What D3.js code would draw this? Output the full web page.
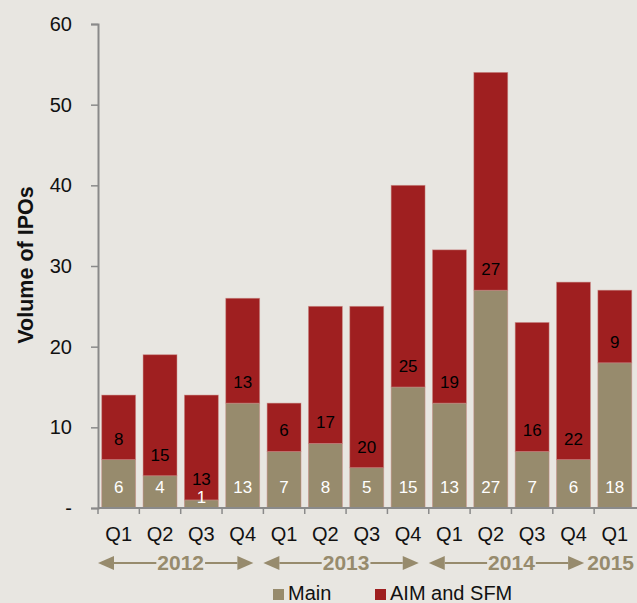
<!DOCTYPE html>
<html>
<head>
<meta charset="utf-8">
<script src="https://cdn.jsdelivr.net/npm/d3@7"></script>
<style>
  body { margin: 0; background: #e8e6e1; }
  svg { display: block; font-family: "Liberation Sans", Arial, sans-serif; }
</style>
</head>
<body>
<div id="chart"></div>
<script>
// data
var quarters = ["Q1", "Q2", "Q3", "Q4", "Q1", "Q2", "Q3", "Q4", "Q1", "Q2", "Q3", "Q4", "Q1"];
var years    = ["2012", "2012", "2012", "2012", "2013", "2013", "2013", "2013", "2014", "2014", "2014", "2014", "2015"];
var mainIpos = [6, 4, 1, 13, 7, 8, 5, 15, 13, 27, 7, 6, 18];
var aimIpos  = [8, 15, 13, 13, 6, 17, 20, 25, 19, 27, 16, 22, 9];
var yTicks   = [0, 10, 20, 30, 40, 50, 60];
var seriesNames = ["Main", "AIM and SFM"];

var W = 637, H = 603;
var margin = {top: 24, right: 1.5, bottom: 95, left: 98};
var tan = "#978b6d", red = "#9f1f20", axisGrey = "#8a8a8a";
var fontFam = "'Liberation Sans', Arial, sans-serif";

var rows = quarters.map(function(q, i) {
    return {key: i, q: q, year: years[i], main: mainIpos[i], aim: aimIpos[i]};
});

var svg = d3.select("#chart").append("svg")
    .attr("width", W).attr("height", H);

svg.append("rect").attr("width", W).attr("height", H).attr("fill", "#e8e6e1");

// scales
var xScale = d3.scaleBand()
    .domain(rows.map(function(d) { return d.key; }))
    .range([margin.left, W - margin.right])
    .paddingInner(0.18)
    .paddingOuter(0.09);

var yScale = d3.scaleLinear()
    .domain([0, 60])
    .range([H - margin.bottom, margin.top]);

var y0 = yScale(0);
var step = xScale.step();
var gap = (step - xScale.bandwidth()) / 2;

// stacked bars
var stack = d3.stack().keys(["main", "aim"]);
var layers = stack(rows);
var colours = {main: tan, aim: red};

svg.append("g").selectAll("g")
  .data(layers)
  .join("g")
    .attr("fill", function(l) { return colours[l.key]; })
  .selectAll("rect")
  .data(function(l) { return l; })
  .join("rect")
    .attr("x", function(d) { return xScale(d.data.key); })
    .attr("width", xScale.bandwidth())
    .attr("y", function(d) { return yScale(d[1]); })
    .attr("height", function(d) { return yScale(d[0]) - yScale(d[1]); })
    .attr("stroke", "#c98a86")
    .attr("stroke-width", 0.8)
    .attr("stroke-opacity", 0.6);

// value labels, near the base of each segment
layers.forEach(function(l) {
    svg.append("g").selectAll("text")
      .data(l)
      .join("text")
        .attr("x", function(d) { return xScale(d.data.key) + xScale.bandwidth() / 2; })
        .attr("y", function(d) {
            var segH = yScale(d[0]) - yScale(d[1]);
            var off = segH < 20 ? 11 : 21;
            return yScale(d[0]) - off;
        })
        .attr("dy", "0.35em")
        .attr("text-anchor", "middle")
        .attr("font-size", 17)
        .attr("fill", l.key === "main" ? "#ffffff" : "#000000")
        .text(function(d) { return d.data[l.key]; });
});

// y axis
var yAxis = d3.axisLeft(yScale)
    .tickValues(yTicks)
    .tickSize(7)
    .tickPadding(19)
    .tickFormat(function(d) { return d === 0 ? "-" : d; });

var gy = svg.append("g")
    .attr("transform", "translate(" + margin.left + ",0)")
    .call(yAxis);
gy.select(".domain").attr("stroke", axisGrey).attr("stroke-width", 2);
gy.selectAll(".tick line").attr("stroke", axisGrey).attr("stroke-width", 1.5);
gy.selectAll(".tick text")
    .attr("font-size", 20)
    .attr("font-family", fontFam)
    .attr("fill", "#111");

// x axis: line plus tick marks at band boundaries
svg.append("line")
    .attr("x1", margin.left).attr("x2", W)
    .attr("y1", y0).attr("y2", y0)
    .attr("stroke", axisGrey).attr("stroke-width", 2);

svg.append("g").selectAll("line")
  .data(rows)
  .join("line")
    .attr("x1", function(d) { return xScale(d.key) - gap; })
    .attr("x2", function(d) { return xScale(d.key) - gap; })
    .attr("y1", y0).attr("y2", y0 + 6)
    .attr("stroke", axisGrey).attr("stroke-width", 1.5);

// quarter labels
svg.append("g").selectAll("text")
  .data(rows)
  .join("text")
    .attr("x", function(d) { return xScale(d.key) + xScale.bandwidth() / 2; })
    .attr("y", 534)
    .attr("dy", "0.35em")
    .attr("text-anchor", "middle")
    .attr("font-size", 20)
    .attr("fill", "#111")
    .text(function(d) { return d.q; });

// year groups with arrows
var yearNames = Array.from(new Set(years));
var yearY = 563;
yearNames.forEach(function(yr) {
    var idx = rows.filter(function(d) { return d.year === yr; }).map(function(d) { return d.key; });
    var left = xScale(idx[0]) - gap;
    var right = xScale(idx[idx.length - 1]) + xScale.bandwidth() + gap;
    var mid = (left + right) / 2;
    var single = idx.length < 2;
    var t = svg.append("text")
        .attr("x", single ? W - 3 : mid)
        .attr("y", yearY)
        .attr("dy", "0.35em")
        .attr("text-anchor", single ? "end" : "middle")
        .attr("font-size", 21)
        .attr("font-weight", "bold")
        .attr("fill", tan)
        .text(yr);
    if (single) return;
    var half = t.node().getComputedTextLength() / 2;
    var lt = left, rt = right - 10;
    var head = 16, hh = 7;
    svg.append("line")
        .attr("x1", lt + head).attr("x2", mid - half - 1)
        .attr("y1", yearY).attr("y2", yearY)
        .attr("stroke", tan).attr("stroke-width", 2);
    svg.append("line")
        .attr("x1", mid + half + 1).attr("x2", rt - head)
        .attr("y1", yearY).attr("y2", yearY)
        .attr("stroke", tan).attr("stroke-width", 2);
    svg.append("path")
        .attr("d", "M" + lt + "," + yearY + "L" + (lt + head) + "," + (yearY - hh) + "L" + (lt + head) + "," + (yearY + hh) + "Z")
        .attr("fill", tan);
    svg.append("path")
        .attr("d", "M" + rt + "," + yearY + "L" + (rt - head) + "," + (yearY - hh) + "L" + (rt - head) + "," + (yearY + hh) + "Z")
        .attr("fill", tan);
});

// y axis title
svg.append("text")
    .attr("transform", "translate(25," + 265 + ") rotate(-90)")
    .attr("text-anchor", "middle")
    .attr("dy", "0.35em")
    .attr("font-size", 21.5)
    .attr("font-weight", "bold")
    .attr("fill", "#111")
    .text("Volume of IPOs");

// legend
var legendX = [273, 375];
var legendColours = [tan, red];
seriesNames.forEach(function(name, i) {
    svg.append("rect")
        .attr("x", legendX[i]).attr("y", 589)
        .attr("width", 11).attr("height", 11)
        .attr("fill", legendColours[i]);
    svg.append("text")
        .attr("x", legendX[i] + 15).attr("y", 600)
        .attr("font-size", 20)
        .attr("fill", "#111")
        .text(name);
});
</script>
</body>
</html>
